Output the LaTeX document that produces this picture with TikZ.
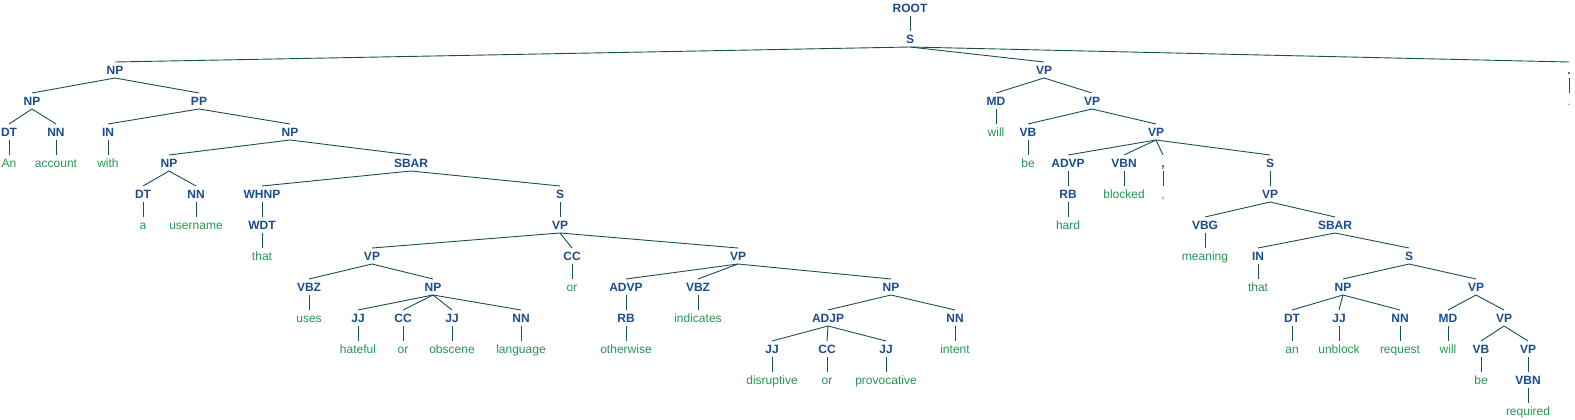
\documentclass[tikz,border=0pt]{standalone}
\usepackage{fontspec}
\setmainfont{Liberation Sans}
\definecolor{tagblue}{RGB}{26,76,140}
\definecolor{wordgreen}{RGB}{38,150,86}
\definecolor{branchteal}{RGB}{24,80,80}
\tikzset{
	tagnode/.style={font=\fontsize{12}{14}\selectfont\bfseries, text=tagblue, inner xsep=1pt, inner ysep=3.5pt, text height=8.6pt, text depth=0pt},
	wordnode/.style={font=\fontsize{12}{14}\selectfont, text=wordgreen, inner xsep=1pt, inner ysep=3.5pt, text height=8.6pt, text depth=0pt},
	branch/.style={line width=0.9pt, color=branchteal}
}
\def\branch(#1)(#2){\draw[branch] (#1.south) -- (#2.north);}

\begin{document}
\begin{tikzpicture}[x=1pt, y=-1pt]
			%%%%% START %%%%%
			
			\useasboundingbox (0, 0) rectangle (1575, 420);
			
			\node[tagnode] (root) at (910, 8) {ROOT};
			\node[tagnode] (s1) at (910, 39) {S};
			
			\node[tagnode] (np1) at (115, 70) {NP};
			\node[tagnode] (vp1) at (1044, 70) {VP};
			\node[tagnode] (dot) at (1569, 70) {.};
			
			\node[tagnode] (np2) at (32, 101) {NP};
			\node[tagnode] (pp1) at (199, 101) {PP};
			\node[tagnode] (md1) at (996, 101) {MD};
			\node[tagnode] (vp2) at (1092, 101) {VP};
			\node[wordnode] (w-dot) at (1569, 101) {.};
			
			\node[tagnode] (dt1) at (9, 132) {DT};
			\node[tagnode] (nn1) at (56, 132) {NN};
			\node[tagnode] (in1) at (108, 132) {IN};
			\node[tagnode] (np3) at (290, 132) {NP};
			\node[wordnode] (w-will1) at (996, 132) {will};
			\node[tagnode] (vb1) at (1028, 132) {VB};
			\node[tagnode] (vp3) at (1156, 132) {VP};
			
			\node[wordnode] (w-an) at (9, 163) {An};
			\node[wordnode] (w-account) at (56, 163) {account};
			\node[wordnode] (w-with) at (108, 163) {with};
			\node[tagnode] (np4) at (169, 163) {NP};
			\node[tagnode] (sbar1) at (411, 163) {SBAR};
			\node[wordnode] (w-be1) at (1028, 163) {be};
			\node[tagnode] (advp1) at (1068, 163) {ADVP};
			\node[tagnode] (vbn1) at (1124, 163) {VBN};
			\node[tagnode] (comma) at (1163, 163) {,};
			\node[tagnode] (s2) at (1270, 163) {S};
			
			\node[tagnode] (dt2) at (143, 194) {DT};
			\node[tagnode] (nn2) at (196, 194) {NN};
			\node[tagnode] (whnp) at (262, 194) {WHNP};
			\node[tagnode] (s3) at (560, 194) {S};
			\node[tagnode] (rb1) at (1068, 194) {RB};
			\node[wordnode] (w-blocked) at (1124, 194) {blocked};
			\node[wordnode] (w-comma) at (1163, 194) {,};
			\node[tagnode] (vp4) at (1270, 194) {VP};
			
			\node[wordnode] (w-a) at (143, 225) {a};
			\node[wordnode] (w-username) at (196, 225) {username};
			\node[tagnode] (wdt) at (262, 225) {WDT};
			\node[tagnode] (vp5) at (560, 225) {VP};
			\node[wordnode] (w-hard) at (1068, 225) {hard};
			\node[tagnode] (vbg) at (1205, 225) {VBG};
			\node[tagnode] (sbar2) at (1335, 225) {SBAR};
			
			\node[wordnode] (w-that1) at (262, 256) {that};
			\node[tagnode] (vp6) at (372, 256) {VP};
			\node[tagnode] (cc1) at (572, 256) {CC};
			\node[tagnode] (vp7) at (738, 256) {VP};
			\node[wordnode] (w-meaning) at (1205, 256) {meaning};
			\node[tagnode] (in2) at (1258, 256) {IN};
			\node[tagnode] (s4) at (1409, 256) {S};
			
			\node[tagnode] (vbz1) at (309, 287) {VBZ};
			\node[tagnode] (np5) at (433, 287) {NP};
			\node[wordnode] (w-or1) at (572, 287) {or};
			\node[tagnode] (advp2) at (626, 287) {ADVP};
			\node[tagnode] (vbz2) at (698, 287) {VBZ};
			\node[tagnode] (np6) at (891, 287) {NP};
			\node[wordnode] (w-that2) at (1258, 287) {that};
			\node[tagnode] (np7) at (1343, 287) {NP};
			\node[tagnode] (vp8) at (1476, 287) {VP};
			
			\node[wordnode] (w-uses) at (309, 318) {uses};
			\node[tagnode] (jj1) at (358, 318) {JJ};
			\node[tagnode] (cc2) at (403, 318) {CC};
			\node[tagnode] (jj2) at (452, 318) {JJ};
			\node[tagnode] (nn3) at (521, 318) {NN};
			\node[tagnode] (rb2) at (626, 318) {RB};
			\node[wordnode] (w-indicates) at (698, 318) {indicates};
			\node[tagnode] (adjp) at (828, 318) {ADJP};
			\node[tagnode] (nn4) at (955, 318) {NN};
			\node[tagnode] (dt3) at (1292, 318) {DT};
			\node[tagnode] (jj3) at (1339, 318) {JJ};
			\node[tagnode] (nn5) at (1400, 318) {NN};
			\node[tagnode] (md2) at (1448, 318) {MD};
			\node[tagnode] (vp9) at (1504, 318) {VP};
			
			\node[wordnode] (w-hateful) at (358, 349) {hateful};
			\node[wordnode] (w-or2) at (403, 349) {or};
			\node[wordnode] (w-obscene) at (452, 349) {obscene};
			\node[wordnode] (w-language) at (521, 349) {language};
			\node[wordnode] (w-otherwise) at (626, 349) {otherwise};
			\node[tagnode] (jj4) at (772, 349) {JJ};
			\node[tagnode] (cc3) at (827, 349) {CC};
			\node[tagnode] (jj5) at (886, 349) {JJ};
			\node[wordnode] (w-intent) at (955, 349) {intent};
			\node[wordnode] (w-an2) at (1292, 349) {an};
			\node[wordnode] (w-unblock) at (1339, 349) {unblock};
			\node[wordnode] (w-request) at (1400, 349) {request};
			\node[wordnode] (w-will2) at (1448, 349) {will};
			\node[tagnode] (vb2) at (1481, 349) {VB};
			\node[tagnode] (vp10) at (1528, 349) {VP};
			
			\node[wordnode] (w-disruptive) at (772, 380) {disruptive};
			\node[wordnode] (w-or3) at (827, 380) {or};
			\node[wordnode] (w-provocative) at (886, 380) {provocative};
			\node[wordnode] (w-be2) at (1481, 380) {be};
			\node[tagnode] (vbn2) at (1528, 380) {VBN};
			
			\node[wordnode] (w-required) at (1528, 411) {required};
			
			% subject
			\branch(root)(s1)
			\branch(s1)(np1) \branch(s1)(vp1) \branch(s1)(dot)
			\branch(dot)(w-dot)
			\branch(np1)(np2) \branch(np1)(pp1)
			\branch(np2)(dt1) \branch(np2)(nn1)
			\branch(dt1)(w-an) \branch(nn1)(w-account)
			\branch(pp1)(in1) \branch(pp1)(np3)
			\branch(in1)(w-with)
			\branch(np3)(np4) \branch(np3)(sbar1)
			\branch(np4)(dt2) \branch(np4)(nn2)
			\branch(dt2)(w-a) \branch(nn2)(w-username)
			\branch(sbar1)(whnp) \branch(sbar1)(s3)
			\branch(whnp)(wdt) \branch(wdt)(w-that1)
			\branch(s3)(vp5)
			\branch(vp5)(vp6) \branch(vp5)(cc1) \branch(vp5)(vp7)
			\branch(vp6)(vbz1) \branch(vp6)(np5)
			\branch(vbz1)(w-uses)
			\branch(np5)(jj1) \branch(np5)(cc2) \branch(np5)(jj2) \branch(np5)(nn3)
			\branch(jj1)(w-hateful) \branch(cc2)(w-or2) \branch(jj2)(w-obscene) \branch(nn3)(w-language)
			\branch(cc1)(w-or1)
			\branch(vp7)(advp2) \branch(vp7)(vbz2) \branch(vp7)(np6)
			\branch(advp2)(rb2) \branch(rb2)(w-otherwise)
			\branch(vbz2)(w-indicates)
			\branch(np6)(adjp) \branch(np6)(nn4)
			\branch(adjp)(jj4) \branch(adjp)(cc3) \branch(adjp)(jj5)
			\branch(jj4)(w-disruptive) \branch(cc3)(w-or3) \branch(jj5)(w-provocative)
			\branch(nn4)(w-intent)
			
			% predicate
			\branch(vp1)(md1) \branch(vp1)(vp2)
			\branch(md1)(w-will1)
			\branch(vp2)(vb1) \branch(vp2)(vp3)
			\branch(vb1)(w-be1)
			\branch(vp3)(advp1) \branch(vp3)(vbn1) \branch(vp3)(comma) \branch(vp3)(s2)
			\branch(advp1)(rb1) \branch(rb1)(w-hard)
			\branch(vbn1)(w-blocked)
			\branch(comma)(w-comma)
			\branch(s2)(vp4)
			\branch(vp4)(vbg) \branch(vp4)(sbar2)
			\branch(vbg)(w-meaning)
			\branch(sbar2)(in2) \branch(sbar2)(s4)
			\branch(in2)(w-that2)
			\branch(s4)(np7) \branch(s4)(vp8)
			\branch(np7)(dt3) \branch(np7)(jj3) \branch(np7)(nn5)
			\branch(dt3)(w-an2) \branch(jj3)(w-unblock) \branch(nn5)(w-request)
			\branch(vp8)(md2) \branch(vp8)(vp9)
			\branch(md2)(w-will2)
			\branch(vp9)(vb2) \branch(vp9)(vp10)
			\branch(vb2)(w-be2)
			\branch(vp10)(vbn2)
			\branch(vbn2)(w-required)
			
			%%%%% END %%%%%
\end{tikzpicture}
\end{document}
